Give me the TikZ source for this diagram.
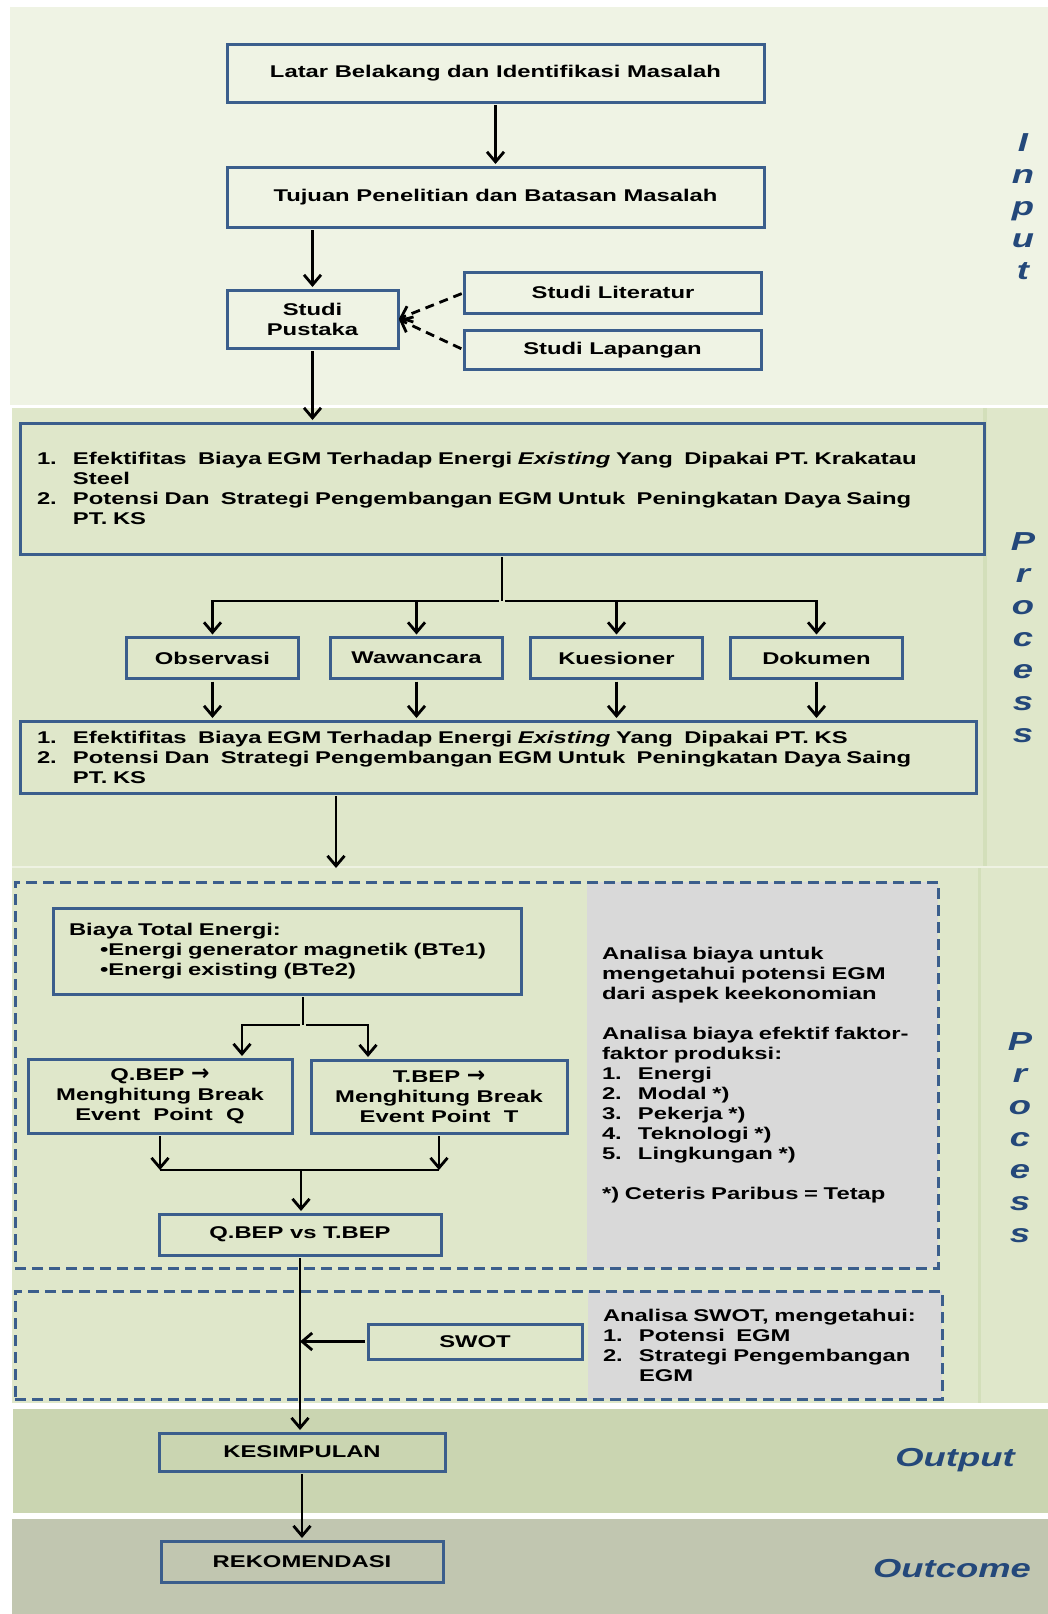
\documentclass[tikz,border=0pt]{standalone}
\usepackage{fontspec}
\setmainfont{Liberation Sans}[FakeStretch=1.4]
\newfontfamily\symfont{DejaVu Sans}
\usetikzlibrary{arrows.meta,positioning}
\definecolor{inputfill}{RGB}{239,243,228}
\definecolor{processfill}{RGB}{223,231,202}
\definecolor{processline}{RGB}{211,223,186}
\definecolor{seamcolor}{RGB}{238,242,226}
\definecolor{outputfill}{RGB}{202,213,177}
\definecolor{outcomefill}{RGB}{193,198,176}
\definecolor{shadefill}{RGB}{217,217,217}
\definecolor{boxblue}{RGB}{59,94,140}
\definecolor{labelblue}{RGB}{36,72,122}

\begin{document}
\begin{tikzpicture}[
	x=1pt, y=-1pt,
	every node/.style={outer sep=0pt, font=\fontsize{17}{20}\selectfont\bfseries},
	box/.style={draw=boxblue, line width=3pt, inner sep=2pt, align=center},
	listbox/.style={box, align=left, inner xsep=17pt},
	shade/.style={fill=shadefill, align=left, inner xsep=15pt},
	area/.style={draw=boxblue, line width=3pt, dash pattern=on 11pt off 6pt},
	link/.style={line width=2.8pt},
	arr/.style={link, -{Straight Barb[length=10pt,width=17pt]},
		shorten <=3pt, shorten >=3pt},
	dasharr/.style={arr, dash pattern=on 9pt off 6pt, shorten >=1pt},
	sidelabel/.style={text=labelblue, align=center,
		font=\fontsize{26}{32}\selectfont\bfseries\itshape},
]
% Input 1: node name. Input 2: centre. Input 3: letters, one per line.
\def\vlabel(#1)#2#3{
	\node[sidelabel] (#1) at #2 {#3};
}
% \num{n}: list number in a fixed slot, so the text hangs.
\def\num#1{\makebox[36pt][l]{#1}}
% \goto: the arrow sign after Q.BEP and T.BEP.
\def\goto{{\symfont\fontsize{22}{20}\selectfont →}}

	% bands
	\useasboundingbox (0,0) rectangle (1048,1614);
	\fill[inputfill] (10,7) rectangle (1048,405);
	\fill[processfill] (12,408) rectangle (1048,1403);
	\fill[outputfill] (13,1409) rectangle (1048,1513);
	\fill[outcomefill] (12,1519) rectangle (1048,1614);
	\fill[processline] (983,408) rectangle (987,867);
	\fill[processline] (977.5,867) rectangle (980.5,1403);
	\draw[seamcolor, line width=1.5pt] (12,867) -- (1048,867);

	% input
	\node[box, minimum width=537pt, minimum height=58pt] (LBM) at (495.5,73)
		{Latar Belakang dan Identifikasi Masalah};
	\node[box, minimum width=537pt, minimum height=60pt, below=65pt of LBM] (TPB)
		{Tujuan Penelitian dan Batasan Masalah};
	\node[box, minimum width=171pt, minimum height=58pt] (SP) at (312.5,319)
		{Studi\\Pustaka};
	\node[box, minimum width=297pt, minimum height=41pt] (SLit) at (613,292.5)
		{Studi Literatur};
	\node[box, minimum width=297pt, minimum height=39pt] (SLap) at (612.5,350)
		{Studi Lapangan};
	\draw[arr] (LBM) -- (TPB);
	\draw[arr] (TPB.south -| SP.north) -- (SP.north);
	\draw[dasharr] (SLit.west) -- (SP.east);
	\draw[dasharr] (SLap.west) -- (SP.east);

	% process
	\node[listbox, text width=930pt, minimum height=131pt] (RM1) at (502,488.5)
		{\num{1.}Efektifitas~ Biaya EGM Terhadap Energi \textit{Existing} Yang~ Dipakai PT. Krakatau\\
		\hspace*{36pt}Steel\\
		\num{2.}Potensi Dan~ Strategi Pengembangan EGM Untuk~ Peningkatan Daya Saing\\
		\hspace*{36pt}PT. KS};
	\node[box, minimum width=172pt, minimum height=41pt] (OBS) at (212.5,658) {Observasi};
	\node[box, minimum width=172pt, minimum height=41pt, right=32pt of OBS] (WAW) {Wawancara};
	\node[box, minimum width=172pt, minimum height=41pt, right=28pt of WAW] (KUE) {Kuesioner};
	\node[box, minimum width=172pt, minimum height=41pt, right=28pt of KUE] (DOK) {Dokumen};
	\node[listbox, text width=922pt, minimum height=72pt] (RM2) at (498,757)
		{\num{1.}Efektifitas~ Biaya EGM Terhadap Energi \textit{Existing} Yang~ Dipakai PT. KS\\
		\num{2.}Potensi Dan~ Strategi Pengembangan EGM Untuk~ Peningkatan Daya Saing\\
		\hspace*{36pt}PT. KS};
	\draw[arr] (SP.south) -- (SP.south |- RM1.north);
	\draw[link, shorten <=3pt] (RM1.south) -- ++(0,47) coordinate (split);
	\foreach \n in {OBS,WAW,KUE,DOK}{
		\draw[arr] (split) -| (\n.north);
		\draw[arr] (\n.south) -- (\n.south |- RM2.north);
	}
	\coordinate (IN2) at (336,868);
	\draw[arr, shorten >=0pt] (RM2.south -| IN2) -- (IN2);

	% cost analysis
	\node[shade, text width=321pt, minimum height=386pt] (G1) at (762.5,1075)
		{Analisa biaya untuk\\
		mengetahui potensi EGM\\
		dari aspek keekonomian\\[20pt]
		Analisa biaya efektif faktor-\\
		faktor produksi:\\
		\num{1.}Energi\\
		\num{2.}Modal *)\\
		\num{3.}Pekerja *)\\
		\num{4.}Teknologi *)\\
		\num{5.}Lingkungan *)\\[20pt]
		*) Ceteris Paribus = Tetap};
	\node[area, minimum width=923pt, minimum height=386pt] (A1) at (476.5,1075) {};
	\node[listbox, text width=436pt, inner xsep=16pt, minimum height=86pt] (BTE) at (287,951)
		{Biaya Total Energi:\\
		\hspace*{31pt}•Energi generator magnetik (BTe1)\\
		\hspace*{31pt}•Energi existing (BTe2)};
	\node[box, minimum width=264pt, minimum height=74pt] (QBEP) at (160,1096)
		{Q.BEP \goto\\Menghitung Break\\Event~ Point~ Q};
	\node[box, minimum width=256pt, minimum height=73pt] (TBEP) at (439,1096.5)
		{T.BEP \goto\\Menghitung Break\\Event Point~ T};
	\node[box, minimum width=282pt, minimum height=41pt] (VS) at (300,1234.5)
		{Q.BEP vs T.BEP};
	\coordinate (fork) at (303,1025);
	\draw[link, shorten <=3pt] (BTE.south -| fork) -- (fork);
	\draw[arr] (fork) -| ([xshift=82pt]QBEP.north);
	\draw[arr] (fork) -| ([xshift=-71pt]TBEP.north);
	\coordinate (join) at (301,1170);
	\draw[arr, shorten >=0pt] (QBEP.south) -- (QBEP.south |- join);
	\draw[arr, shorten >=0pt] (TBEP.south) -- (TBEP.south |- join);
	\draw[link] (QBEP.south |- join) -- (TBEP.south |- join);
	\draw[arr, shorten <=0pt] (join) -- (join |- VS.north);

	% swot
	\node[shade, text width=324pt, minimum height=108pt] (G2) at (765,1345)
		{Analisa SWOT, mengetahui:\\
		\num{1.}Potensi~ EGM\\
		\num{2.}Strategi Pengembangan\\
		\hspace*{36pt}EGM};
	\node[area, minimum width=927pt, minimum height=108pt] (A2) at (478.5,1345) {};
	\node[box, minimum width=214pt, minimum height=35pt] (SWOT) at (475,1341.5) {SWOT};

	% output, outcome
	\node[box, minimum width=286pt, minimum height=38pt] (KES) at (302,1452) {KESIMPULAN};
	\node[box, minimum width=282pt, minimum height=41pt, below=70pt of KES] (REK) {REKOMENDASI};
	\draw[arr] (VS.south) -- (VS.south |- KES.north);
	\draw[arr, shorten >=0pt] (SWOT.west) -- (SWOT.west -| VS.south);
	\draw[arr] (KES.south) -- (KES.south |- REK.north);

	% band labels
	\vlabel(IN){(1023,207)}{I\\n\\p\\u\\t}
	\vlabel(PR1){(1023,638)}{P\\r\\o\\c\\e\\s\\s}
	\vlabel(PR2){(1020,1138)}{P\\r\\o\\c\\e\\s\\s}
	\node[sidelabel] (OUT) at (955,1460) {Output};
	\node[sidelabel] (OUTC) at (952,1569) {Outcome};
\end{tikzpicture}
\end{document}
